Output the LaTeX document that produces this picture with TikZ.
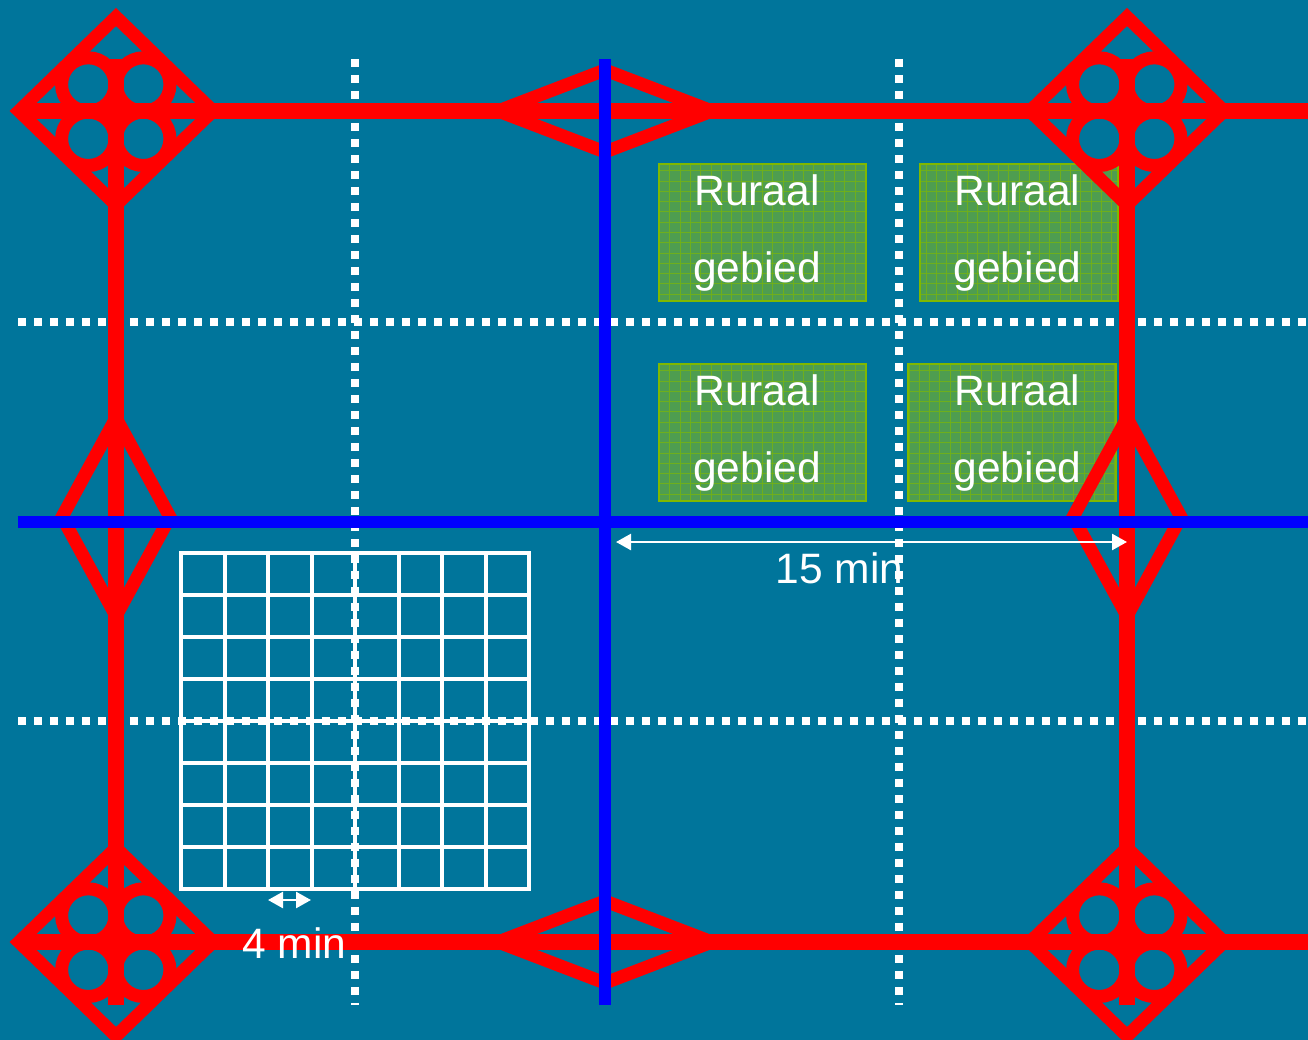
\documentclass[tikz,border=0pt]{standalone}
\usepackage{fontspec}
\setmainfont{Liberation Sans}
\usetikzlibrary{arrows.meta}

\definecolor{seablue}{RGB}{0,117,155}
\definecolor{ruralgreen}{RGB}{78,157,80}
\definecolor{ruralline}{RGB}{128,184,0}

\begin{document}
\begin{tikzpicture}[x=.02cm,y=-.02cm,
   road/.style={draw=red,line width=.33cm},
   ring/.style={draw=red,line width=.26cm},
   motorway/.style={draw=blue,line width=.25cm},
   dotline/.style={draw=white,line width=.155cm,dash pattern=on .16cm off .16cm},
   gridline/.style={draw=white,line width=.08cm},
   span/.style={draw=white,line width=.05cm,{Triangle[length=.3cm,width=.32cm]}-{Triangle[length=.3cm,width=.32cm]}},
   label/.style={text=white,font=\fontsize{24.2}{28}\selectfont,anchor=base,inner sep=0pt},
   ruraal/.style={text=white,font=\fontsize{24.2}{43.65}\selectfont,align=center,inner sep=0pt},
   ruralbox/.style={draw=ruralline,fill=ruralgreen,line width=.05cm,minimum height=2.74cm,inner sep=0pt,
      path picture={\draw[ruralline!65!ruralgreen,line width=.02cm]
         (path picture bounding box.north west) ++(.006cm,-.006cm) grid[step=.206cm] ++(5cm,-3.5cm);}},
   junction/.pic={
      \draw[ring,line join=miter] (-97,0) -- (0,-94) -- (97,0) -- (0,94) -- cycle;
      \draw[ring] (-27.7,-26.5) circle (26.7) (27.3,-26.5) circle (26.7)
                  (-27.7,27.8) circle (26.7) (27.3,27.8) circle (26.7);},
   widen/.pic={
      \draw[ring] (-107,0) -- (0,-41) -- (107,0) -- (0,41) -- cycle;},
   widenv/.pic={
      \draw[ring] (-54,0) -- (0,-99) -- (54,0) -- (0,99) -- cycle;}]
\useasboundingbox[fill=seablue] (0,0) rectangle (1308,1040);

\coordinate (tl) at (116,111);
\coordinate (tr) at (1127,111);
\coordinate (bl) at (116,942);
\coordinate (br) at (1127,942);
\coordinate (tm) at (605,111);
\coordinate (bm) at (605,942);
\coordinate (lm) at (116,517);
\coordinate (rm) at (1127,517);
\coordinate (te) at (1308,111);
\coordinate (be) at (1308,942);
\coordinate (tls) at (116,59);
\coordinate (bls) at (116,1005);
\coordinate (trs) at (1127,59);
\coordinate (brs) at (1127,1005);
\coordinate (tln) at (25,111);
\coordinate (bln) at (25,942);

% dotted lines
\draw[dotline] (18,322) coordinate (da) -- (1308,322) coordinate (db);
\draw[dotline] (18,721) coordinate (dc) -- (1308,721) coordinate (dd);
\draw[dotline] (355,59) coordinate (de) -- (355,1005) coordinate (df);
\draw[dotline] (899,59) coordinate (dg) -- (899,1005) coordinate (dh);

% rural areas
\node[ruralbox,minimum width=4.14cm] (boxa) at (762.5,232.5) {};
\node[ruralbox,minimum width=3.96cm] (boxb) at (1019,232.5) {};
\node[ruralbox,minimum width=4.14cm] (boxc) at (762.5,432.5) {};
\node[ruralbox,minimum width=4.16cm] (boxd) at (1012,432.5) {};

% cells
\foreach \i in {0,...,8} {
   \draw[gridline] ({181+43.5*\i},552.7) -- ({181+43.5*\i},889);
   \draw[gridline] (179,{552.7+42*\i}) -- (531,{552.7+42*\i});
}

% roads
\draw[road] (tln) -- (te);
\draw[road] (bln) -- (be);
\draw[road] (tls) -- (bls);
\draw[road] (trs) -- (brs);
\pic at (tl) {junction};
\pic at (tr) {junction};
\pic at (bl) {junction};
\pic at (br) {junction};
\pic at (tm) {widen};
\pic at (bm) {widen};
\pic at (lm) {widenv};
\pic at (rm) {widenv};

% motorways
\coordinate (mt) at (605,59);
\coordinate (mb) at (605,1005);
\coordinate (ml) at (18,522);
\coordinate (mr) at (1308,522);
\draw[motorway] (mt) -- (mb);
\draw[motorway] (ml) -- (mr);

% distances
\coordinate (sa) at (616,542);
\coordinate (sb) at (1127,542);
\coordinate (sc) at (268,900);
\coordinate (sd) at (311,900);
\draw[span] (sa) -- (sb);
\draw[span] (sc) -- (sd);
\node[label] (long) at (839.5,583) {15 min};
\node[label] (short) at (294.5,958) {4 min};

\node[ruraal] (texta) at (757,233) {Ruraal\\gebied};
\node[ruraal] (textb) at (1017.5,233) {Ruraal\\gebied};
\node[ruraal] (textc) at (757,433) {Ruraal\\gebied};
\node[ruraal] (textd) at (1017.5,433) {Ruraal\\gebied};
\end{tikzpicture}
\end{document}
